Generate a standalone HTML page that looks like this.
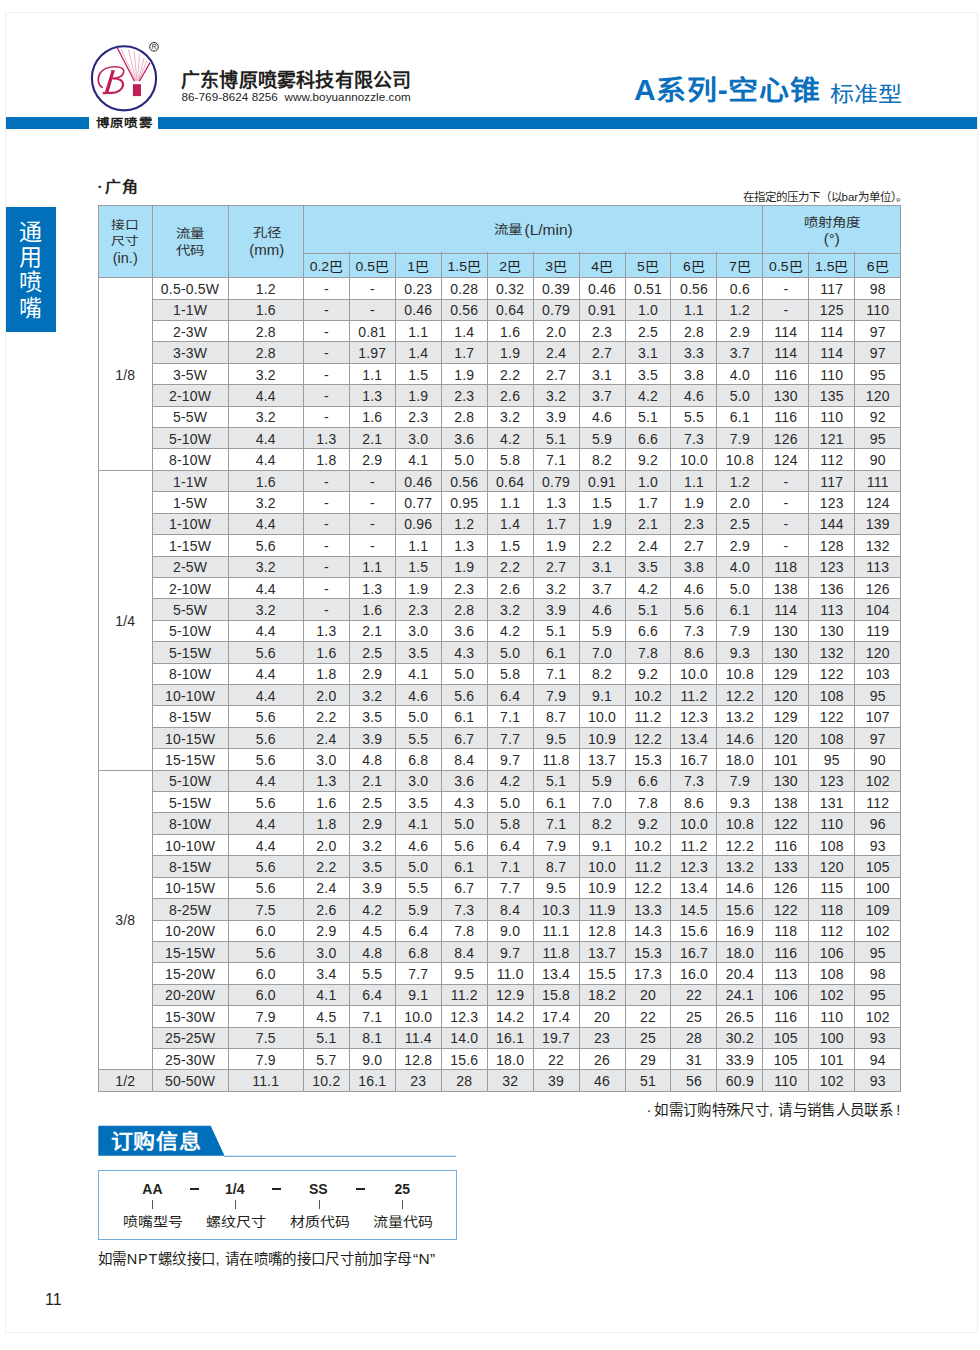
<!DOCTYPE html>
<html lang="zh-CN">
<head>
<meta charset="utf-8">
<title>A系列-空心锥 标准型</title>
<style>
html,body{margin:0;padding:0;background:#fff;}
body{width:980px;height:1350px;position:relative;overflow:hidden;font-family:"Liberation Sans",sans-serif;color:#231f20;}
.a{position:absolute;}
.h{position:absolute;height:1px;background:#9c9c9c;}
.v{position:absolute;width:1px;background:#9c9c9c;}
.t{position:absolute;text-align:center;font-size:14px;letter-spacing:0.2px;white-space:nowrap;color:#2a2a2a;padding-top:1.5px;box-sizing:border-box;}
.sh{position:absolute;text-align:center;font-size:14px;transform:translateY(1.6px) scaleY(0.92);white-space:nowrap;color:#231f20;}
.hd{position:absolute;text-align:center;font-size:14.5px;line-height:17px;white-space:nowrap;color:#2e2e2e;}
.lt{font-size:15px;}
.cj{display:inline-block;transform:scaleY(0.84);}
.lb{transform:scaleY(0.86);transform-origin:0 12px;}
.tc{display:inline-block;transform:scaleY(0.9);transform-origin:0 28px;}
.page{position:absolute;left:5px;top:12px;width:971px;height:1319px;border:1px solid #efefef;}
.bar{position:absolute;top:116.5px;height:12px;background:#0070bb;}
</style>
</head>
<body>
<div class="page"></div>

<!-- header bar -->
<div class="bar" style="left:6px;width:83px"></div>
<div class="bar" style="left:158px;width:819px"></div>
<div class="a" style="left:96px;top:114.8px;font-size:13.5px;font-weight:bold;letter-spacing:1.2px;line-height:16px;white-space:nowrap;transform:scaleY(0.84);transform-origin:0 15px;">博原喷雾</div>

<!-- logo -->
<svg class="a" style="left:0;top:0" width="200" height="130" viewBox="0 0 200 130">
  <circle cx="124" cy="78.3" r="32.1" fill="none" stroke="#27277f" stroke-width="2.1"/>
  <g stroke="#e07a9a" stroke-width="0.6" fill="none">
    <line x1="135.3" y1="80.8" x2="121.4" y2="49.4"/>
    <line x1="136.2" y1="80.8" x2="128.4" y2="49.6"/>
    <line x1="136.9" y1="80.8" x2="134.2" y2="51.2"/>
    <line x1="137.8" y1="80.8" x2="139.4" y2="54.3"/>
    <line x1="138.5" y1="80.8" x2="144.1" y2="57.9"/>
    <line x1="138.9" y1="80.8" x2="146.6" y2="61.1"/>
  </g>
  <line x1="134.5" y1="81.3" x2="117.2" y2="47.8" stroke="#c21f55" stroke-width="1.3"/>
  <line x1="139.4" y1="81.3" x2="149.9" y2="62.9" stroke="#c21f55" stroke-width="1.3"/>
  <rect x="132.9" y="84.2" width="8.1" height="11.9" fill="#c21f55"/>
  <g fill="none" stroke="#c21f55" stroke-linecap="round">
    <path d="M102.2 87.3 C97.2 84.5 97.3 76.5 100.6 72.4 C104 68.2 110 66.6 115.8 66.7 C120.8 66.8 124.3 68.6 123.7 72 C123.1 75.6 118.5 78 113.2 78.5" stroke-width="1.6"/>
    <path d="M113.2 78.5 C119.2 78.3 123.6 80.8 123 85.2 C122.3 90 117.2 92.8 111.2 92.9 L103.6 93.1" stroke-width="2.1"/>
  </g>
  <path d="M110.5 70.3 L115.4 70.3 L114.6 71.2 L108.3 93 L104.6 93 L111.3 71.2 Z" fill="#c21f55"/>
  <circle cx="154" cy="46.8" r="4.3" fill="none" stroke="#222" stroke-width="1"/>
  <text x="154.1" y="49.2" font-family="Liberation Sans" font-size="6.5" text-anchor="middle" fill="#222">R</text>
</svg>

<div class="a" style="left:181px;top:69px;font-size:19px;font-weight:bold;line-height:24px;white-space:nowrap;letter-spacing:0.2px;">广东博原喷雾科技有限公司</div>
<div class="a" style="left:181.5px;top:89.5px;font-size:11.7px;line-height:14px;letter-spacing:0.05px;white-space:nowrap;color:#231f20;">86-769-8624 8256&nbsp;&nbsp;www.boyuannozzle.com</div>

<div class="a" style="left:634px;top:73px;font-size:30px;font-weight:bold;color:#0a70bd;line-height:34px;white-space:nowrap;letter-spacing:0.7px;">A<span class="tc">系列</span>-<span class="tc">空心锥</span></div>
<div class="a" style="left:830px;top:78px;font-size:24px;color:#0a70bd;line-height:30px;white-space:nowrap;"><span class="tc" style="transform:scaleY(0.87);transform-origin:0 24px">标准型</span></div>

<!-- side tab -->
<div class="a" style="left:6px;top:207px;width:50px;height:124.5px;background:#0070bb;"></div>
<div class="a" style="left:5.5px;top:220px;width:50px;color:#fff;font-size:23px;line-height:25.2px;text-align:center;">通<br>用<br>喷<br>嘴</div>

<div class="a" style="left:97.6px;top:175.6px;font-size:16px;font-weight:bold;line-height:22px;white-space:nowrap;letter-spacing:0.8px;transform:scaleY(0.9);transform-origin:0 18px;"><span style="display:inline-block;width:7.6px">·</span>广角</div>
<div class="a" style="left:742.5px;top:189px;font-size:11.5px;line-height:16px;white-space:nowrap;">在指定的压力下（以bar为单位）。</div>

<!-- table -->
<div class="a" style="left:98.4px;top:205.4px;width:802.3px;height:72px;background:#a9dff7"></div>
<div class="a" style="left:152.1px;top:298.81px;width:748.6px;height:21.41px;background:#e6e7e9"></div>
<div class="a" style="left:152.1px;top:341.63px;width:748.6px;height:21.41px;background:#e6e7e9"></div>
<div class="a" style="left:152.1px;top:384.45px;width:748.6px;height:21.41px;background:#e6e7e9"></div>
<div class="a" style="left:152.1px;top:427.27px;width:748.6px;height:21.41px;background:#e6e7e9"></div>
<div class="a" style="left:152.1px;top:470.09px;width:748.6px;height:21.41px;background:#e6e7e9"></div>
<div class="a" style="left:152.1px;top:512.92px;width:748.6px;height:21.41px;background:#e6e7e9"></div>
<div class="a" style="left:152.1px;top:555.74px;width:748.6px;height:21.41px;background:#e6e7e9"></div>
<div class="a" style="left:152.1px;top:598.56px;width:748.6px;height:21.41px;background:#e6e7e9"></div>
<div class="a" style="left:152.1px;top:641.38px;width:748.6px;height:21.41px;background:#e6e7e9"></div>
<div class="a" style="left:152.1px;top:684.2px;width:748.6px;height:21.41px;background:#e6e7e9"></div>
<div class="a" style="left:152.1px;top:727.02px;width:748.6px;height:21.41px;background:#e6e7e9"></div>
<div class="a" style="left:152.1px;top:769.84px;width:748.6px;height:21.41px;background:#e6e7e9"></div>
<div class="a" style="left:152.1px;top:812.66px;width:748.6px;height:21.41px;background:#e6e7e9"></div>
<div class="a" style="left:152.1px;top:855.48px;width:748.6px;height:21.41px;background:#e6e7e9"></div>
<div class="a" style="left:152.1px;top:898.31px;width:748.6px;height:21.41px;background:#e6e7e9"></div>
<div class="a" style="left:152.1px;top:941.13px;width:748.6px;height:21.41px;background:#e6e7e9"></div>
<div class="a" style="left:152.1px;top:983.95px;width:748.6px;height:21.41px;background:#e6e7e9"></div>
<div class="a" style="left:152.1px;top:1026.77px;width:748.6px;height:21.41px;background:#e6e7e9"></div>
<div class="a" style="left:98.4px;top:1069.59px;width:802.3px;height:21.41px;background:#e6e7e9"></div>
<div class="t" style="left:152.1px;top:277.4px;width:75.9px;height:21.41px;line-height:21.41px">0.5-0.5W</div>
<div class="t" style="left:228px;top:277.4px;width:75.4px;height:21.41px;line-height:21.41px">1.2</div>
<div class="t" style="left:303.4px;top:277.4px;width:45.95px;height:21.41px;line-height:21.41px">-</div>
<div class="t" style="left:349.35px;top:277.4px;width:45.95px;height:21.41px;line-height:21.41px">-</div>
<div class="t" style="left:395.29px;top:277.4px;width:45.95px;height:21.41px;line-height:21.41px">0.23</div>
<div class="t" style="left:441.24px;top:277.4px;width:45.95px;height:21.41px;line-height:21.41px">0.28</div>
<div class="t" style="left:487.18px;top:277.4px;width:45.95px;height:21.41px;line-height:21.41px">0.32</div>
<div class="t" style="left:533.13px;top:277.4px;width:45.95px;height:21.41px;line-height:21.41px">0.39</div>
<div class="t" style="left:579.08px;top:277.4px;width:45.95px;height:21.41px;line-height:21.41px">0.46</div>
<div class="t" style="left:625.02px;top:277.4px;width:45.95px;height:21.41px;line-height:21.41px">0.51</div>
<div class="t" style="left:670.97px;top:277.4px;width:45.95px;height:21.41px;line-height:21.41px">0.56</div>
<div class="t" style="left:716.92px;top:277.4px;width:45.95px;height:21.41px;line-height:21.41px">0.6</div>
<div class="t" style="left:762.86px;top:277.4px;width:45.95px;height:21.41px;line-height:21.41px">-</div>
<div class="t" style="left:808.81px;top:277.4px;width:45.95px;height:21.41px;line-height:21.41px">117</div>
<div class="t" style="left:854.75px;top:277.4px;width:45.95px;height:21.41px;line-height:21.41px">98</div>
<div class="t" style="left:152.1px;top:298.81px;width:75.9px;height:21.41px;line-height:21.41px">1-1W</div>
<div class="t" style="left:228px;top:298.81px;width:75.4px;height:21.41px;line-height:21.41px">1.6</div>
<div class="t" style="left:303.4px;top:298.81px;width:45.95px;height:21.41px;line-height:21.41px">-</div>
<div class="t" style="left:349.35px;top:298.81px;width:45.95px;height:21.41px;line-height:21.41px">-</div>
<div class="t" style="left:395.29px;top:298.81px;width:45.95px;height:21.41px;line-height:21.41px">0.46</div>
<div class="t" style="left:441.24px;top:298.81px;width:45.95px;height:21.41px;line-height:21.41px">0.56</div>
<div class="t" style="left:487.18px;top:298.81px;width:45.95px;height:21.41px;line-height:21.41px">0.64</div>
<div class="t" style="left:533.13px;top:298.81px;width:45.95px;height:21.41px;line-height:21.41px">0.79</div>
<div class="t" style="left:579.08px;top:298.81px;width:45.95px;height:21.41px;line-height:21.41px">0.91</div>
<div class="t" style="left:625.02px;top:298.81px;width:45.95px;height:21.41px;line-height:21.41px">1.0</div>
<div class="t" style="left:670.97px;top:298.81px;width:45.95px;height:21.41px;line-height:21.41px">1.1</div>
<div class="t" style="left:716.92px;top:298.81px;width:45.95px;height:21.41px;line-height:21.41px">1.2</div>
<div class="t" style="left:762.86px;top:298.81px;width:45.95px;height:21.41px;line-height:21.41px">-</div>
<div class="t" style="left:808.81px;top:298.81px;width:45.95px;height:21.41px;line-height:21.41px">125</div>
<div class="t" style="left:854.75px;top:298.81px;width:45.95px;height:21.41px;line-height:21.41px">110</div>
<div class="t" style="left:152.1px;top:320.22px;width:75.9px;height:21.41px;line-height:21.41px">2-3W</div>
<div class="t" style="left:228px;top:320.22px;width:75.4px;height:21.41px;line-height:21.41px">2.8</div>
<div class="t" style="left:303.4px;top:320.22px;width:45.95px;height:21.41px;line-height:21.41px">-</div>
<div class="t" style="left:349.35px;top:320.22px;width:45.95px;height:21.41px;line-height:21.41px">0.81</div>
<div class="t" style="left:395.29px;top:320.22px;width:45.95px;height:21.41px;line-height:21.41px">1.1</div>
<div class="t" style="left:441.24px;top:320.22px;width:45.95px;height:21.41px;line-height:21.41px">1.4</div>
<div class="t" style="left:487.18px;top:320.22px;width:45.95px;height:21.41px;line-height:21.41px">1.6</div>
<div class="t" style="left:533.13px;top:320.22px;width:45.95px;height:21.41px;line-height:21.41px">2.0</div>
<div class="t" style="left:579.08px;top:320.22px;width:45.95px;height:21.41px;line-height:21.41px">2.3</div>
<div class="t" style="left:625.02px;top:320.22px;width:45.95px;height:21.41px;line-height:21.41px">2.5</div>
<div class="t" style="left:670.97px;top:320.22px;width:45.95px;height:21.41px;line-height:21.41px">2.8</div>
<div class="t" style="left:716.92px;top:320.22px;width:45.95px;height:21.41px;line-height:21.41px">2.9</div>
<div class="t" style="left:762.86px;top:320.22px;width:45.95px;height:21.41px;line-height:21.41px">114</div>
<div class="t" style="left:808.81px;top:320.22px;width:45.95px;height:21.41px;line-height:21.41px">114</div>
<div class="t" style="left:854.75px;top:320.22px;width:45.95px;height:21.41px;line-height:21.41px">97</div>
<div class="t" style="left:152.1px;top:341.63px;width:75.9px;height:21.41px;line-height:21.41px">3-3W</div>
<div class="t" style="left:228px;top:341.63px;width:75.4px;height:21.41px;line-height:21.41px">2.8</div>
<div class="t" style="left:303.4px;top:341.63px;width:45.95px;height:21.41px;line-height:21.41px">-</div>
<div class="t" style="left:349.35px;top:341.63px;width:45.95px;height:21.41px;line-height:21.41px">1.97</div>
<div class="t" style="left:395.29px;top:341.63px;width:45.95px;height:21.41px;line-height:21.41px">1.4</div>
<div class="t" style="left:441.24px;top:341.63px;width:45.95px;height:21.41px;line-height:21.41px">1.7</div>
<div class="t" style="left:487.18px;top:341.63px;width:45.95px;height:21.41px;line-height:21.41px">1.9</div>
<div class="t" style="left:533.13px;top:341.63px;width:45.95px;height:21.41px;line-height:21.41px">2.4</div>
<div class="t" style="left:579.08px;top:341.63px;width:45.95px;height:21.41px;line-height:21.41px">2.7</div>
<div class="t" style="left:625.02px;top:341.63px;width:45.95px;height:21.41px;line-height:21.41px">3.1</div>
<div class="t" style="left:670.97px;top:341.63px;width:45.95px;height:21.41px;line-height:21.41px">3.3</div>
<div class="t" style="left:716.92px;top:341.63px;width:45.95px;height:21.41px;line-height:21.41px">3.7</div>
<div class="t" style="left:762.86px;top:341.63px;width:45.95px;height:21.41px;line-height:21.41px">114</div>
<div class="t" style="left:808.81px;top:341.63px;width:45.95px;height:21.41px;line-height:21.41px">114</div>
<div class="t" style="left:854.75px;top:341.63px;width:45.95px;height:21.41px;line-height:21.41px">97</div>
<div class="t" style="left:152.1px;top:363.04px;width:75.9px;height:21.41px;line-height:21.41px">3-5W</div>
<div class="t" style="left:228px;top:363.04px;width:75.4px;height:21.41px;line-height:21.41px">3.2</div>
<div class="t" style="left:303.4px;top:363.04px;width:45.95px;height:21.41px;line-height:21.41px">-</div>
<div class="t" style="left:349.35px;top:363.04px;width:45.95px;height:21.41px;line-height:21.41px">1.1</div>
<div class="t" style="left:395.29px;top:363.04px;width:45.95px;height:21.41px;line-height:21.41px">1.5</div>
<div class="t" style="left:441.24px;top:363.04px;width:45.95px;height:21.41px;line-height:21.41px">1.9</div>
<div class="t" style="left:487.18px;top:363.04px;width:45.95px;height:21.41px;line-height:21.41px">2.2</div>
<div class="t" style="left:533.13px;top:363.04px;width:45.95px;height:21.41px;line-height:21.41px">2.7</div>
<div class="t" style="left:579.08px;top:363.04px;width:45.95px;height:21.41px;line-height:21.41px">3.1</div>
<div class="t" style="left:625.02px;top:363.04px;width:45.95px;height:21.41px;line-height:21.41px">3.5</div>
<div class="t" style="left:670.97px;top:363.04px;width:45.95px;height:21.41px;line-height:21.41px">3.8</div>
<div class="t" style="left:716.92px;top:363.04px;width:45.95px;height:21.41px;line-height:21.41px">4.0</div>
<div class="t" style="left:762.86px;top:363.04px;width:45.95px;height:21.41px;line-height:21.41px">116</div>
<div class="t" style="left:808.81px;top:363.04px;width:45.95px;height:21.41px;line-height:21.41px">110</div>
<div class="t" style="left:854.75px;top:363.04px;width:45.95px;height:21.41px;line-height:21.41px">95</div>
<div class="t" style="left:152.1px;top:384.45px;width:75.9px;height:21.41px;line-height:21.41px">2-10W</div>
<div class="t" style="left:228px;top:384.45px;width:75.4px;height:21.41px;line-height:21.41px">4.4</div>
<div class="t" style="left:303.4px;top:384.45px;width:45.95px;height:21.41px;line-height:21.41px">-</div>
<div class="t" style="left:349.35px;top:384.45px;width:45.95px;height:21.41px;line-height:21.41px">1.3</div>
<div class="t" style="left:395.29px;top:384.45px;width:45.95px;height:21.41px;line-height:21.41px">1.9</div>
<div class="t" style="left:441.24px;top:384.45px;width:45.95px;height:21.41px;line-height:21.41px">2.3</div>
<div class="t" style="left:487.18px;top:384.45px;width:45.95px;height:21.41px;line-height:21.41px">2.6</div>
<div class="t" style="left:533.13px;top:384.45px;width:45.95px;height:21.41px;line-height:21.41px">3.2</div>
<div class="t" style="left:579.08px;top:384.45px;width:45.95px;height:21.41px;line-height:21.41px">3.7</div>
<div class="t" style="left:625.02px;top:384.45px;width:45.95px;height:21.41px;line-height:21.41px">4.2</div>
<div class="t" style="left:670.97px;top:384.45px;width:45.95px;height:21.41px;line-height:21.41px">4.6</div>
<div class="t" style="left:716.92px;top:384.45px;width:45.95px;height:21.41px;line-height:21.41px">5.0</div>
<div class="t" style="left:762.86px;top:384.45px;width:45.95px;height:21.41px;line-height:21.41px">130</div>
<div class="t" style="left:808.81px;top:384.45px;width:45.95px;height:21.41px;line-height:21.41px">135</div>
<div class="t" style="left:854.75px;top:384.45px;width:45.95px;height:21.41px;line-height:21.41px">120</div>
<div class="t" style="left:152.1px;top:405.86px;width:75.9px;height:21.41px;line-height:21.41px">5-5W</div>
<div class="t" style="left:228px;top:405.86px;width:75.4px;height:21.41px;line-height:21.41px">3.2</div>
<div class="t" style="left:303.4px;top:405.86px;width:45.95px;height:21.41px;line-height:21.41px">-</div>
<div class="t" style="left:349.35px;top:405.86px;width:45.95px;height:21.41px;line-height:21.41px">1.6</div>
<div class="t" style="left:395.29px;top:405.86px;width:45.95px;height:21.41px;line-height:21.41px">2.3</div>
<div class="t" style="left:441.24px;top:405.86px;width:45.95px;height:21.41px;line-height:21.41px">2.8</div>
<div class="t" style="left:487.18px;top:405.86px;width:45.95px;height:21.41px;line-height:21.41px">3.2</div>
<div class="t" style="left:533.13px;top:405.86px;width:45.95px;height:21.41px;line-height:21.41px">3.9</div>
<div class="t" style="left:579.08px;top:405.86px;width:45.95px;height:21.41px;line-height:21.41px">4.6</div>
<div class="t" style="left:625.02px;top:405.86px;width:45.95px;height:21.41px;line-height:21.41px">5.1</div>
<div class="t" style="left:670.97px;top:405.86px;width:45.95px;height:21.41px;line-height:21.41px">5.5</div>
<div class="t" style="left:716.92px;top:405.86px;width:45.95px;height:21.41px;line-height:21.41px">6.1</div>
<div class="t" style="left:762.86px;top:405.86px;width:45.95px;height:21.41px;line-height:21.41px">116</div>
<div class="t" style="left:808.81px;top:405.86px;width:45.95px;height:21.41px;line-height:21.41px">110</div>
<div class="t" style="left:854.75px;top:405.86px;width:45.95px;height:21.41px;line-height:21.41px">92</div>
<div class="t" style="left:152.1px;top:427.27px;width:75.9px;height:21.41px;line-height:21.41px">5-10W</div>
<div class="t" style="left:228px;top:427.27px;width:75.4px;height:21.41px;line-height:21.41px">4.4</div>
<div class="t" style="left:303.4px;top:427.27px;width:45.95px;height:21.41px;line-height:21.41px">1.3</div>
<div class="t" style="left:349.35px;top:427.27px;width:45.95px;height:21.41px;line-height:21.41px">2.1</div>
<div class="t" style="left:395.29px;top:427.27px;width:45.95px;height:21.41px;line-height:21.41px">3.0</div>
<div class="t" style="left:441.24px;top:427.27px;width:45.95px;height:21.41px;line-height:21.41px">3.6</div>
<div class="t" style="left:487.18px;top:427.27px;width:45.95px;height:21.41px;line-height:21.41px">4.2</div>
<div class="t" style="left:533.13px;top:427.27px;width:45.95px;height:21.41px;line-height:21.41px">5.1</div>
<div class="t" style="left:579.08px;top:427.27px;width:45.95px;height:21.41px;line-height:21.41px">5.9</div>
<div class="t" style="left:625.02px;top:427.27px;width:45.95px;height:21.41px;line-height:21.41px">6.6</div>
<div class="t" style="left:670.97px;top:427.27px;width:45.95px;height:21.41px;line-height:21.41px">7.3</div>
<div class="t" style="left:716.92px;top:427.27px;width:45.95px;height:21.41px;line-height:21.41px">7.9</div>
<div class="t" style="left:762.86px;top:427.27px;width:45.95px;height:21.41px;line-height:21.41px">126</div>
<div class="t" style="left:808.81px;top:427.27px;width:45.95px;height:21.41px;line-height:21.41px">121</div>
<div class="t" style="left:854.75px;top:427.27px;width:45.95px;height:21.41px;line-height:21.41px">95</div>
<div class="t" style="left:152.1px;top:448.68px;width:75.9px;height:21.41px;line-height:21.41px">8-10W</div>
<div class="t" style="left:228px;top:448.68px;width:75.4px;height:21.41px;line-height:21.41px">4.4</div>
<div class="t" style="left:303.4px;top:448.68px;width:45.95px;height:21.41px;line-height:21.41px">1.8</div>
<div class="t" style="left:349.35px;top:448.68px;width:45.95px;height:21.41px;line-height:21.41px">2.9</div>
<div class="t" style="left:395.29px;top:448.68px;width:45.95px;height:21.41px;line-height:21.41px">4.1</div>
<div class="t" style="left:441.24px;top:448.68px;width:45.95px;height:21.41px;line-height:21.41px">5.0</div>
<div class="t" style="left:487.18px;top:448.68px;width:45.95px;height:21.41px;line-height:21.41px">5.8</div>
<div class="t" style="left:533.13px;top:448.68px;width:45.95px;height:21.41px;line-height:21.41px">7.1</div>
<div class="t" style="left:579.08px;top:448.68px;width:45.95px;height:21.41px;line-height:21.41px">8.2</div>
<div class="t" style="left:625.02px;top:448.68px;width:45.95px;height:21.41px;line-height:21.41px">9.2</div>
<div class="t" style="left:670.97px;top:448.68px;width:45.95px;height:21.41px;line-height:21.41px">10.0</div>
<div class="t" style="left:716.92px;top:448.68px;width:45.95px;height:21.41px;line-height:21.41px">10.8</div>
<div class="t" style="left:762.86px;top:448.68px;width:45.95px;height:21.41px;line-height:21.41px">124</div>
<div class="t" style="left:808.81px;top:448.68px;width:45.95px;height:21.41px;line-height:21.41px">112</div>
<div class="t" style="left:854.75px;top:448.68px;width:45.95px;height:21.41px;line-height:21.41px">90</div>
<div class="t" style="left:152.1px;top:470.09px;width:75.9px;height:21.41px;line-height:21.41px">1-1W</div>
<div class="t" style="left:228px;top:470.09px;width:75.4px;height:21.41px;line-height:21.41px">1.6</div>
<div class="t" style="left:303.4px;top:470.09px;width:45.95px;height:21.41px;line-height:21.41px">-</div>
<div class="t" style="left:349.35px;top:470.09px;width:45.95px;height:21.41px;line-height:21.41px">-</div>
<div class="t" style="left:395.29px;top:470.09px;width:45.95px;height:21.41px;line-height:21.41px">0.46</div>
<div class="t" style="left:441.24px;top:470.09px;width:45.95px;height:21.41px;line-height:21.41px">0.56</div>
<div class="t" style="left:487.18px;top:470.09px;width:45.95px;height:21.41px;line-height:21.41px">0.64</div>
<div class="t" style="left:533.13px;top:470.09px;width:45.95px;height:21.41px;line-height:21.41px">0.79</div>
<div class="t" style="left:579.08px;top:470.09px;width:45.95px;height:21.41px;line-height:21.41px">0.91</div>
<div class="t" style="left:625.02px;top:470.09px;width:45.95px;height:21.41px;line-height:21.41px">1.0</div>
<div class="t" style="left:670.97px;top:470.09px;width:45.95px;height:21.41px;line-height:21.41px">1.1</div>
<div class="t" style="left:716.92px;top:470.09px;width:45.95px;height:21.41px;line-height:21.41px">1.2</div>
<div class="t" style="left:762.86px;top:470.09px;width:45.95px;height:21.41px;line-height:21.41px">-</div>
<div class="t" style="left:808.81px;top:470.09px;width:45.95px;height:21.41px;line-height:21.41px">117</div>
<div class="t" style="left:854.75px;top:470.09px;width:45.95px;height:21.41px;line-height:21.41px">111</div>
<div class="t" style="left:152.1px;top:491.51px;width:75.9px;height:21.41px;line-height:21.41px">1-5W</div>
<div class="t" style="left:228px;top:491.51px;width:75.4px;height:21.41px;line-height:21.41px">3.2</div>
<div class="t" style="left:303.4px;top:491.51px;width:45.95px;height:21.41px;line-height:21.41px">-</div>
<div class="t" style="left:349.35px;top:491.51px;width:45.95px;height:21.41px;line-height:21.41px">-</div>
<div class="t" style="left:395.29px;top:491.51px;width:45.95px;height:21.41px;line-height:21.41px">0.77</div>
<div class="t" style="left:441.24px;top:491.51px;width:45.95px;height:21.41px;line-height:21.41px">0.95</div>
<div class="t" style="left:487.18px;top:491.51px;width:45.95px;height:21.41px;line-height:21.41px">1.1</div>
<div class="t" style="left:533.13px;top:491.51px;width:45.95px;height:21.41px;line-height:21.41px">1.3</div>
<div class="t" style="left:579.08px;top:491.51px;width:45.95px;height:21.41px;line-height:21.41px">1.5</div>
<div class="t" style="left:625.02px;top:491.51px;width:45.95px;height:21.41px;line-height:21.41px">1.7</div>
<div class="t" style="left:670.97px;top:491.51px;width:45.95px;height:21.41px;line-height:21.41px">1.9</div>
<div class="t" style="left:716.92px;top:491.51px;width:45.95px;height:21.41px;line-height:21.41px">2.0</div>
<div class="t" style="left:762.86px;top:491.51px;width:45.95px;height:21.41px;line-height:21.41px">-</div>
<div class="t" style="left:808.81px;top:491.51px;width:45.95px;height:21.41px;line-height:21.41px">123</div>
<div class="t" style="left:854.75px;top:491.51px;width:45.95px;height:21.41px;line-height:21.41px">124</div>
<div class="t" style="left:152.1px;top:512.92px;width:75.9px;height:21.41px;line-height:21.41px">1-10W</div>
<div class="t" style="left:228px;top:512.92px;width:75.4px;height:21.41px;line-height:21.41px">4.4</div>
<div class="t" style="left:303.4px;top:512.92px;width:45.95px;height:21.41px;line-height:21.41px">-</div>
<div class="t" style="left:349.35px;top:512.92px;width:45.95px;height:21.41px;line-height:21.41px">-</div>
<div class="t" style="left:395.29px;top:512.92px;width:45.95px;height:21.41px;line-height:21.41px">0.96</div>
<div class="t" style="left:441.24px;top:512.92px;width:45.95px;height:21.41px;line-height:21.41px">1.2</div>
<div class="t" style="left:487.18px;top:512.92px;width:45.95px;height:21.41px;line-height:21.41px">1.4</div>
<div class="t" style="left:533.13px;top:512.92px;width:45.95px;height:21.41px;line-height:21.41px">1.7</div>
<div class="t" style="left:579.08px;top:512.92px;width:45.95px;height:21.41px;line-height:21.41px">1.9</div>
<div class="t" style="left:625.02px;top:512.92px;width:45.95px;height:21.41px;line-height:21.41px">2.1</div>
<div class="t" style="left:670.97px;top:512.92px;width:45.95px;height:21.41px;line-height:21.41px">2.3</div>
<div class="t" style="left:716.92px;top:512.92px;width:45.95px;height:21.41px;line-height:21.41px">2.5</div>
<div class="t" style="left:762.86px;top:512.92px;width:45.95px;height:21.41px;line-height:21.41px">-</div>
<div class="t" style="left:808.81px;top:512.92px;width:45.95px;height:21.41px;line-height:21.41px">144</div>
<div class="t" style="left:854.75px;top:512.92px;width:45.95px;height:21.41px;line-height:21.41px">139</div>
<div class="t" style="left:152.1px;top:534.33px;width:75.9px;height:21.41px;line-height:21.41px">1-15W</div>
<div class="t" style="left:228px;top:534.33px;width:75.4px;height:21.41px;line-height:21.41px">5.6</div>
<div class="t" style="left:303.4px;top:534.33px;width:45.95px;height:21.41px;line-height:21.41px">-</div>
<div class="t" style="left:349.35px;top:534.33px;width:45.95px;height:21.41px;line-height:21.41px">-</div>
<div class="t" style="left:395.29px;top:534.33px;width:45.95px;height:21.41px;line-height:21.41px">1.1</div>
<div class="t" style="left:441.24px;top:534.33px;width:45.95px;height:21.41px;line-height:21.41px">1.3</div>
<div class="t" style="left:487.18px;top:534.33px;width:45.95px;height:21.41px;line-height:21.41px">1.5</div>
<div class="t" style="left:533.13px;top:534.33px;width:45.95px;height:21.41px;line-height:21.41px">1.9</div>
<div class="t" style="left:579.08px;top:534.33px;width:45.95px;height:21.41px;line-height:21.41px">2.2</div>
<div class="t" style="left:625.02px;top:534.33px;width:45.95px;height:21.41px;line-height:21.41px">2.4</div>
<div class="t" style="left:670.97px;top:534.33px;width:45.95px;height:21.41px;line-height:21.41px">2.7</div>
<div class="t" style="left:716.92px;top:534.33px;width:45.95px;height:21.41px;line-height:21.41px">2.9</div>
<div class="t" style="left:762.86px;top:534.33px;width:45.95px;height:21.41px;line-height:21.41px">-</div>
<div class="t" style="left:808.81px;top:534.33px;width:45.95px;height:21.41px;line-height:21.41px">128</div>
<div class="t" style="left:854.75px;top:534.33px;width:45.95px;height:21.41px;line-height:21.41px">132</div>
<div class="t" style="left:152.1px;top:555.74px;width:75.9px;height:21.41px;line-height:21.41px">2-5W</div>
<div class="t" style="left:228px;top:555.74px;width:75.4px;height:21.41px;line-height:21.41px">3.2</div>
<div class="t" style="left:303.4px;top:555.74px;width:45.95px;height:21.41px;line-height:21.41px">-</div>
<div class="t" style="left:349.35px;top:555.74px;width:45.95px;height:21.41px;line-height:21.41px">1.1</div>
<div class="t" style="left:395.29px;top:555.74px;width:45.95px;height:21.41px;line-height:21.41px">1.5</div>
<div class="t" style="left:441.24px;top:555.74px;width:45.95px;height:21.41px;line-height:21.41px">1.9</div>
<div class="t" style="left:487.18px;top:555.74px;width:45.95px;height:21.41px;line-height:21.41px">2.2</div>
<div class="t" style="left:533.13px;top:555.74px;width:45.95px;height:21.41px;line-height:21.41px">2.7</div>
<div class="t" style="left:579.08px;top:555.74px;width:45.95px;height:21.41px;line-height:21.41px">3.1</div>
<div class="t" style="left:625.02px;top:555.74px;width:45.95px;height:21.41px;line-height:21.41px">3.5</div>
<div class="t" style="left:670.97px;top:555.74px;width:45.95px;height:21.41px;line-height:21.41px">3.8</div>
<div class="t" style="left:716.92px;top:555.74px;width:45.95px;height:21.41px;line-height:21.41px">4.0</div>
<div class="t" style="left:762.86px;top:555.74px;width:45.95px;height:21.41px;line-height:21.41px">118</div>
<div class="t" style="left:808.81px;top:555.74px;width:45.95px;height:21.41px;line-height:21.41px">123</div>
<div class="t" style="left:854.75px;top:555.74px;width:45.95px;height:21.41px;line-height:21.41px">113</div>
<div class="t" style="left:152.1px;top:577.15px;width:75.9px;height:21.41px;line-height:21.41px">2-10W</div>
<div class="t" style="left:228px;top:577.15px;width:75.4px;height:21.41px;line-height:21.41px">4.4</div>
<div class="t" style="left:303.4px;top:577.15px;width:45.95px;height:21.41px;line-height:21.41px">-</div>
<div class="t" style="left:349.35px;top:577.15px;width:45.95px;height:21.41px;line-height:21.41px">1.3</div>
<div class="t" style="left:395.29px;top:577.15px;width:45.95px;height:21.41px;line-height:21.41px">1.9</div>
<div class="t" style="left:441.24px;top:577.15px;width:45.95px;height:21.41px;line-height:21.41px">2.3</div>
<div class="t" style="left:487.18px;top:577.15px;width:45.95px;height:21.41px;line-height:21.41px">2.6</div>
<div class="t" style="left:533.13px;top:577.15px;width:45.95px;height:21.41px;line-height:21.41px">3.2</div>
<div class="t" style="left:579.08px;top:577.15px;width:45.95px;height:21.41px;line-height:21.41px">3.7</div>
<div class="t" style="left:625.02px;top:577.15px;width:45.95px;height:21.41px;line-height:21.41px">4.2</div>
<div class="t" style="left:670.97px;top:577.15px;width:45.95px;height:21.41px;line-height:21.41px">4.6</div>
<div class="t" style="left:716.92px;top:577.15px;width:45.95px;height:21.41px;line-height:21.41px">5.0</div>
<div class="t" style="left:762.86px;top:577.15px;width:45.95px;height:21.41px;line-height:21.41px">138</div>
<div class="t" style="left:808.81px;top:577.15px;width:45.95px;height:21.41px;line-height:21.41px">136</div>
<div class="t" style="left:854.75px;top:577.15px;width:45.95px;height:21.41px;line-height:21.41px">126</div>
<div class="t" style="left:152.1px;top:598.56px;width:75.9px;height:21.41px;line-height:21.41px">5-5W</div>
<div class="t" style="left:228px;top:598.56px;width:75.4px;height:21.41px;line-height:21.41px">3.2</div>
<div class="t" style="left:303.4px;top:598.56px;width:45.95px;height:21.41px;line-height:21.41px">-</div>
<div class="t" style="left:349.35px;top:598.56px;width:45.95px;height:21.41px;line-height:21.41px">1.6</div>
<div class="t" style="left:395.29px;top:598.56px;width:45.95px;height:21.41px;line-height:21.41px">2.3</div>
<div class="t" style="left:441.24px;top:598.56px;width:45.95px;height:21.41px;line-height:21.41px">2.8</div>
<div class="t" style="left:487.18px;top:598.56px;width:45.95px;height:21.41px;line-height:21.41px">3.2</div>
<div class="t" style="left:533.13px;top:598.56px;width:45.95px;height:21.41px;line-height:21.41px">3.9</div>
<div class="t" style="left:579.08px;top:598.56px;width:45.95px;height:21.41px;line-height:21.41px">4.6</div>
<div class="t" style="left:625.02px;top:598.56px;width:45.95px;height:21.41px;line-height:21.41px">5.1</div>
<div class="t" style="left:670.97px;top:598.56px;width:45.95px;height:21.41px;line-height:21.41px">5.6</div>
<div class="t" style="left:716.92px;top:598.56px;width:45.95px;height:21.41px;line-height:21.41px">6.1</div>
<div class="t" style="left:762.86px;top:598.56px;width:45.95px;height:21.41px;line-height:21.41px">114</div>
<div class="t" style="left:808.81px;top:598.56px;width:45.95px;height:21.41px;line-height:21.41px">113</div>
<div class="t" style="left:854.75px;top:598.56px;width:45.95px;height:21.41px;line-height:21.41px">104</div>
<div class="t" style="left:152.1px;top:619.97px;width:75.9px;height:21.41px;line-height:21.41px">5-10W</div>
<div class="t" style="left:228px;top:619.97px;width:75.4px;height:21.41px;line-height:21.41px">4.4</div>
<div class="t" style="left:303.4px;top:619.97px;width:45.95px;height:21.41px;line-height:21.41px">1.3</div>
<div class="t" style="left:349.35px;top:619.97px;width:45.95px;height:21.41px;line-height:21.41px">2.1</div>
<div class="t" style="left:395.29px;top:619.97px;width:45.95px;height:21.41px;line-height:21.41px">3.0</div>
<div class="t" style="left:441.24px;top:619.97px;width:45.95px;height:21.41px;line-height:21.41px">3.6</div>
<div class="t" style="left:487.18px;top:619.97px;width:45.95px;height:21.41px;line-height:21.41px">4.2</div>
<div class="t" style="left:533.13px;top:619.97px;width:45.95px;height:21.41px;line-height:21.41px">5.1</div>
<div class="t" style="left:579.08px;top:619.97px;width:45.95px;height:21.41px;line-height:21.41px">5.9</div>
<div class="t" style="left:625.02px;top:619.97px;width:45.95px;height:21.41px;line-height:21.41px">6.6</div>
<div class="t" style="left:670.97px;top:619.97px;width:45.95px;height:21.41px;line-height:21.41px">7.3</div>
<div class="t" style="left:716.92px;top:619.97px;width:45.95px;height:21.41px;line-height:21.41px">7.9</div>
<div class="t" style="left:762.86px;top:619.97px;width:45.95px;height:21.41px;line-height:21.41px">130</div>
<div class="t" style="left:808.81px;top:619.97px;width:45.95px;height:21.41px;line-height:21.41px">130</div>
<div class="t" style="left:854.75px;top:619.97px;width:45.95px;height:21.41px;line-height:21.41px">119</div>
<div class="t" style="left:152.1px;top:641.38px;width:75.9px;height:21.41px;line-height:21.41px">5-15W</div>
<div class="t" style="left:228px;top:641.38px;width:75.4px;height:21.41px;line-height:21.41px">5.6</div>
<div class="t" style="left:303.4px;top:641.38px;width:45.95px;height:21.41px;line-height:21.41px">1.6</div>
<div class="t" style="left:349.35px;top:641.38px;width:45.95px;height:21.41px;line-height:21.41px">2.5</div>
<div class="t" style="left:395.29px;top:641.38px;width:45.95px;height:21.41px;line-height:21.41px">3.5</div>
<div class="t" style="left:441.24px;top:641.38px;width:45.95px;height:21.41px;line-height:21.41px">4.3</div>
<div class="t" style="left:487.18px;top:641.38px;width:45.95px;height:21.41px;line-height:21.41px">5.0</div>
<div class="t" style="left:533.13px;top:641.38px;width:45.95px;height:21.41px;line-height:21.41px">6.1</div>
<div class="t" style="left:579.08px;top:641.38px;width:45.95px;height:21.41px;line-height:21.41px">7.0</div>
<div class="t" style="left:625.02px;top:641.38px;width:45.95px;height:21.41px;line-height:21.41px">7.8</div>
<div class="t" style="left:670.97px;top:641.38px;width:45.95px;height:21.41px;line-height:21.41px">8.6</div>
<div class="t" style="left:716.92px;top:641.38px;width:45.95px;height:21.41px;line-height:21.41px">9.3</div>
<div class="t" style="left:762.86px;top:641.38px;width:45.95px;height:21.41px;line-height:21.41px">130</div>
<div class="t" style="left:808.81px;top:641.38px;width:45.95px;height:21.41px;line-height:21.41px">132</div>
<div class="t" style="left:854.75px;top:641.38px;width:45.95px;height:21.41px;line-height:21.41px">120</div>
<div class="t" style="left:152.1px;top:662.79px;width:75.9px;height:21.41px;line-height:21.41px">8-10W</div>
<div class="t" style="left:228px;top:662.79px;width:75.4px;height:21.41px;line-height:21.41px">4.4</div>
<div class="t" style="left:303.4px;top:662.79px;width:45.95px;height:21.41px;line-height:21.41px">1.8</div>
<div class="t" style="left:349.35px;top:662.79px;width:45.95px;height:21.41px;line-height:21.41px">2.9</div>
<div class="t" style="left:395.29px;top:662.79px;width:45.95px;height:21.41px;line-height:21.41px">4.1</div>
<div class="t" style="left:441.24px;top:662.79px;width:45.95px;height:21.41px;line-height:21.41px">5.0</div>
<div class="t" style="left:487.18px;top:662.79px;width:45.95px;height:21.41px;line-height:21.41px">5.8</div>
<div class="t" style="left:533.13px;top:662.79px;width:45.95px;height:21.41px;line-height:21.41px">7.1</div>
<div class="t" style="left:579.08px;top:662.79px;width:45.95px;height:21.41px;line-height:21.41px">8.2</div>
<div class="t" style="left:625.02px;top:662.79px;width:45.95px;height:21.41px;line-height:21.41px">9.2</div>
<div class="t" style="left:670.97px;top:662.79px;width:45.95px;height:21.41px;line-height:21.41px">10.0</div>
<div class="t" style="left:716.92px;top:662.79px;width:45.95px;height:21.41px;line-height:21.41px">10.8</div>
<div class="t" style="left:762.86px;top:662.79px;width:45.95px;height:21.41px;line-height:21.41px">129</div>
<div class="t" style="left:808.81px;top:662.79px;width:45.95px;height:21.41px;line-height:21.41px">122</div>
<div class="t" style="left:854.75px;top:662.79px;width:45.95px;height:21.41px;line-height:21.41px">103</div>
<div class="t" style="left:152.1px;top:684.2px;width:75.9px;height:21.41px;line-height:21.41px">10-10W</div>
<div class="t" style="left:228px;top:684.2px;width:75.4px;height:21.41px;line-height:21.41px">4.4</div>
<div class="t" style="left:303.4px;top:684.2px;width:45.95px;height:21.41px;line-height:21.41px">2.0</div>
<div class="t" style="left:349.35px;top:684.2px;width:45.95px;height:21.41px;line-height:21.41px">3.2</div>
<div class="t" style="left:395.29px;top:684.2px;width:45.95px;height:21.41px;line-height:21.41px">4.6</div>
<div class="t" style="left:441.24px;top:684.2px;width:45.95px;height:21.41px;line-height:21.41px">5.6</div>
<div class="t" style="left:487.18px;top:684.2px;width:45.95px;height:21.41px;line-height:21.41px">6.4</div>
<div class="t" style="left:533.13px;top:684.2px;width:45.95px;height:21.41px;line-height:21.41px">7.9</div>
<div class="t" style="left:579.08px;top:684.2px;width:45.95px;height:21.41px;line-height:21.41px">9.1</div>
<div class="t" style="left:625.02px;top:684.2px;width:45.95px;height:21.41px;line-height:21.41px">10.2</div>
<div class="t" style="left:670.97px;top:684.2px;width:45.95px;height:21.41px;line-height:21.41px">11.2</div>
<div class="t" style="left:716.92px;top:684.2px;width:45.95px;height:21.41px;line-height:21.41px">12.2</div>
<div class="t" style="left:762.86px;top:684.2px;width:45.95px;height:21.41px;line-height:21.41px">120</div>
<div class="t" style="left:808.81px;top:684.2px;width:45.95px;height:21.41px;line-height:21.41px">108</div>
<div class="t" style="left:854.75px;top:684.2px;width:45.95px;height:21.41px;line-height:21.41px">95</div>
<div class="t" style="left:152.1px;top:705.61px;width:75.9px;height:21.41px;line-height:21.41px">8-15W</div>
<div class="t" style="left:228px;top:705.61px;width:75.4px;height:21.41px;line-height:21.41px">5.6</div>
<div class="t" style="left:303.4px;top:705.61px;width:45.95px;height:21.41px;line-height:21.41px">2.2</div>
<div class="t" style="left:349.35px;top:705.61px;width:45.95px;height:21.41px;line-height:21.41px">3.5</div>
<div class="t" style="left:395.29px;top:705.61px;width:45.95px;height:21.41px;line-height:21.41px">5.0</div>
<div class="t" style="left:441.24px;top:705.61px;width:45.95px;height:21.41px;line-height:21.41px">6.1</div>
<div class="t" style="left:487.18px;top:705.61px;width:45.95px;height:21.41px;line-height:21.41px">7.1</div>
<div class="t" style="left:533.13px;top:705.61px;width:45.95px;height:21.41px;line-height:21.41px">8.7</div>
<div class="t" style="left:579.08px;top:705.61px;width:45.95px;height:21.41px;line-height:21.41px">10.0</div>
<div class="t" style="left:625.02px;top:705.61px;width:45.95px;height:21.41px;line-height:21.41px">11.2</div>
<div class="t" style="left:670.97px;top:705.61px;width:45.95px;height:21.41px;line-height:21.41px">12.3</div>
<div class="t" style="left:716.92px;top:705.61px;width:45.95px;height:21.41px;line-height:21.41px">13.2</div>
<div class="t" style="left:762.86px;top:705.61px;width:45.95px;height:21.41px;line-height:21.41px">129</div>
<div class="t" style="left:808.81px;top:705.61px;width:45.95px;height:21.41px;line-height:21.41px">122</div>
<div class="t" style="left:854.75px;top:705.61px;width:45.95px;height:21.41px;line-height:21.41px">107</div>
<div class="t" style="left:152.1px;top:727.02px;width:75.9px;height:21.41px;line-height:21.41px">10-15W</div>
<div class="t" style="left:228px;top:727.02px;width:75.4px;height:21.41px;line-height:21.41px">5.6</div>
<div class="t" style="left:303.4px;top:727.02px;width:45.95px;height:21.41px;line-height:21.41px">2.4</div>
<div class="t" style="left:349.35px;top:727.02px;width:45.95px;height:21.41px;line-height:21.41px">3.9</div>
<div class="t" style="left:395.29px;top:727.02px;width:45.95px;height:21.41px;line-height:21.41px">5.5</div>
<div class="t" style="left:441.24px;top:727.02px;width:45.95px;height:21.41px;line-height:21.41px">6.7</div>
<div class="t" style="left:487.18px;top:727.02px;width:45.95px;height:21.41px;line-height:21.41px">7.7</div>
<div class="t" style="left:533.13px;top:727.02px;width:45.95px;height:21.41px;line-height:21.41px">9.5</div>
<div class="t" style="left:579.08px;top:727.02px;width:45.95px;height:21.41px;line-height:21.41px">10.9</div>
<div class="t" style="left:625.02px;top:727.02px;width:45.95px;height:21.41px;line-height:21.41px">12.2</div>
<div class="t" style="left:670.97px;top:727.02px;width:45.95px;height:21.41px;line-height:21.41px">13.4</div>
<div class="t" style="left:716.92px;top:727.02px;width:45.95px;height:21.41px;line-height:21.41px">14.6</div>
<div class="t" style="left:762.86px;top:727.02px;width:45.95px;height:21.41px;line-height:21.41px">120</div>
<div class="t" style="left:808.81px;top:727.02px;width:45.95px;height:21.41px;line-height:21.41px">108</div>
<div class="t" style="left:854.75px;top:727.02px;width:45.95px;height:21.41px;line-height:21.41px">97</div>
<div class="t" style="left:152.1px;top:748.43px;width:75.9px;height:21.41px;line-height:21.41px">15-15W</div>
<div class="t" style="left:228px;top:748.43px;width:75.4px;height:21.41px;line-height:21.41px">5.6</div>
<div class="t" style="left:303.4px;top:748.43px;width:45.95px;height:21.41px;line-height:21.41px">3.0</div>
<div class="t" style="left:349.35px;top:748.43px;width:45.95px;height:21.41px;line-height:21.41px">4.8</div>
<div class="t" style="left:395.29px;top:748.43px;width:45.95px;height:21.41px;line-height:21.41px">6.8</div>
<div class="t" style="left:441.24px;top:748.43px;width:45.95px;height:21.41px;line-height:21.41px">8.4</div>
<div class="t" style="left:487.18px;top:748.43px;width:45.95px;height:21.41px;line-height:21.41px">9.7</div>
<div class="t" style="left:533.13px;top:748.43px;width:45.95px;height:21.41px;line-height:21.41px">11.8</div>
<div class="t" style="left:579.08px;top:748.43px;width:45.95px;height:21.41px;line-height:21.41px">13.7</div>
<div class="t" style="left:625.02px;top:748.43px;width:45.95px;height:21.41px;line-height:21.41px">15.3</div>
<div class="t" style="left:670.97px;top:748.43px;width:45.95px;height:21.41px;line-height:21.41px">16.7</div>
<div class="t" style="left:716.92px;top:748.43px;width:45.95px;height:21.41px;line-height:21.41px">18.0</div>
<div class="t" style="left:762.86px;top:748.43px;width:45.95px;height:21.41px;line-height:21.41px">101</div>
<div class="t" style="left:808.81px;top:748.43px;width:45.95px;height:21.41px;line-height:21.41px">95</div>
<div class="t" style="left:854.75px;top:748.43px;width:45.95px;height:21.41px;line-height:21.41px">90</div>
<div class="t" style="left:152.1px;top:769.84px;width:75.9px;height:21.41px;line-height:21.41px">5-10W</div>
<div class="t" style="left:228px;top:769.84px;width:75.4px;height:21.41px;line-height:21.41px">4.4</div>
<div class="t" style="left:303.4px;top:769.84px;width:45.95px;height:21.41px;line-height:21.41px">1.3</div>
<div class="t" style="left:349.35px;top:769.84px;width:45.95px;height:21.41px;line-height:21.41px">2.1</div>
<div class="t" style="left:395.29px;top:769.84px;width:45.95px;height:21.41px;line-height:21.41px">3.0</div>
<div class="t" style="left:441.24px;top:769.84px;width:45.95px;height:21.41px;line-height:21.41px">3.6</div>
<div class="t" style="left:487.18px;top:769.84px;width:45.95px;height:21.41px;line-height:21.41px">4.2</div>
<div class="t" style="left:533.13px;top:769.84px;width:45.95px;height:21.41px;line-height:21.41px">5.1</div>
<div class="t" style="left:579.08px;top:769.84px;width:45.95px;height:21.41px;line-height:21.41px">5.9</div>
<div class="t" style="left:625.02px;top:769.84px;width:45.95px;height:21.41px;line-height:21.41px">6.6</div>
<div class="t" style="left:670.97px;top:769.84px;width:45.95px;height:21.41px;line-height:21.41px">7.3</div>
<div class="t" style="left:716.92px;top:769.84px;width:45.95px;height:21.41px;line-height:21.41px">7.9</div>
<div class="t" style="left:762.86px;top:769.84px;width:45.95px;height:21.41px;line-height:21.41px">130</div>
<div class="t" style="left:808.81px;top:769.84px;width:45.95px;height:21.41px;line-height:21.41px">123</div>
<div class="t" style="left:854.75px;top:769.84px;width:45.95px;height:21.41px;line-height:21.41px">102</div>
<div class="t" style="left:152.1px;top:791.25px;width:75.9px;height:21.41px;line-height:21.41px">5-15W</div>
<div class="t" style="left:228px;top:791.25px;width:75.4px;height:21.41px;line-height:21.41px">5.6</div>
<div class="t" style="left:303.4px;top:791.25px;width:45.95px;height:21.41px;line-height:21.41px">1.6</div>
<div class="t" style="left:349.35px;top:791.25px;width:45.95px;height:21.41px;line-height:21.41px">2.5</div>
<div class="t" style="left:395.29px;top:791.25px;width:45.95px;height:21.41px;line-height:21.41px">3.5</div>
<div class="t" style="left:441.24px;top:791.25px;width:45.95px;height:21.41px;line-height:21.41px">4.3</div>
<div class="t" style="left:487.18px;top:791.25px;width:45.95px;height:21.41px;line-height:21.41px">5.0</div>
<div class="t" style="left:533.13px;top:791.25px;width:45.95px;height:21.41px;line-height:21.41px">6.1</div>
<div class="t" style="left:579.08px;top:791.25px;width:45.95px;height:21.41px;line-height:21.41px">7.0</div>
<div class="t" style="left:625.02px;top:791.25px;width:45.95px;height:21.41px;line-height:21.41px">7.8</div>
<div class="t" style="left:670.97px;top:791.25px;width:45.95px;height:21.41px;line-height:21.41px">8.6</div>
<div class="t" style="left:716.92px;top:791.25px;width:45.95px;height:21.41px;line-height:21.41px">9.3</div>
<div class="t" style="left:762.86px;top:791.25px;width:45.95px;height:21.41px;line-height:21.41px">138</div>
<div class="t" style="left:808.81px;top:791.25px;width:45.95px;height:21.41px;line-height:21.41px">131</div>
<div class="t" style="left:854.75px;top:791.25px;width:45.95px;height:21.41px;line-height:21.41px">112</div>
<div class="t" style="left:152.1px;top:812.66px;width:75.9px;height:21.41px;line-height:21.41px">8-10W</div>
<div class="t" style="left:228px;top:812.66px;width:75.4px;height:21.41px;line-height:21.41px">4.4</div>
<div class="t" style="left:303.4px;top:812.66px;width:45.95px;height:21.41px;line-height:21.41px">1.8</div>
<div class="t" style="left:349.35px;top:812.66px;width:45.95px;height:21.41px;line-height:21.41px">2.9</div>
<div class="t" style="left:395.29px;top:812.66px;width:45.95px;height:21.41px;line-height:21.41px">4.1</div>
<div class="t" style="left:441.24px;top:812.66px;width:45.95px;height:21.41px;line-height:21.41px">5.0</div>
<div class="t" style="left:487.18px;top:812.66px;width:45.95px;height:21.41px;line-height:21.41px">5.8</div>
<div class="t" style="left:533.13px;top:812.66px;width:45.95px;height:21.41px;line-height:21.41px">7.1</div>
<div class="t" style="left:579.08px;top:812.66px;width:45.95px;height:21.41px;line-height:21.41px">8.2</div>
<div class="t" style="left:625.02px;top:812.66px;width:45.95px;height:21.41px;line-height:21.41px">9.2</div>
<div class="t" style="left:670.97px;top:812.66px;width:45.95px;height:21.41px;line-height:21.41px">10.0</div>
<div class="t" style="left:716.92px;top:812.66px;width:45.95px;height:21.41px;line-height:21.41px">10.8</div>
<div class="t" style="left:762.86px;top:812.66px;width:45.95px;height:21.41px;line-height:21.41px">122</div>
<div class="t" style="left:808.81px;top:812.66px;width:45.95px;height:21.41px;line-height:21.41px">110</div>
<div class="t" style="left:854.75px;top:812.66px;width:45.95px;height:21.41px;line-height:21.41px">96</div>
<div class="t" style="left:152.1px;top:834.07px;width:75.9px;height:21.41px;line-height:21.41px">10-10W</div>
<div class="t" style="left:228px;top:834.07px;width:75.4px;height:21.41px;line-height:21.41px">4.4</div>
<div class="t" style="left:303.4px;top:834.07px;width:45.95px;height:21.41px;line-height:21.41px">2.0</div>
<div class="t" style="left:349.35px;top:834.07px;width:45.95px;height:21.41px;line-height:21.41px">3.2</div>
<div class="t" style="left:395.29px;top:834.07px;width:45.95px;height:21.41px;line-height:21.41px">4.6</div>
<div class="t" style="left:441.24px;top:834.07px;width:45.95px;height:21.41px;line-height:21.41px">5.6</div>
<div class="t" style="left:487.18px;top:834.07px;width:45.95px;height:21.41px;line-height:21.41px">6.4</div>
<div class="t" style="left:533.13px;top:834.07px;width:45.95px;height:21.41px;line-height:21.41px">7.9</div>
<div class="t" style="left:579.08px;top:834.07px;width:45.95px;height:21.41px;line-height:21.41px">9.1</div>
<div class="t" style="left:625.02px;top:834.07px;width:45.95px;height:21.41px;line-height:21.41px">10.2</div>
<div class="t" style="left:670.97px;top:834.07px;width:45.95px;height:21.41px;line-height:21.41px">11.2</div>
<div class="t" style="left:716.92px;top:834.07px;width:45.95px;height:21.41px;line-height:21.41px">12.2</div>
<div class="t" style="left:762.86px;top:834.07px;width:45.95px;height:21.41px;line-height:21.41px">116</div>
<div class="t" style="left:808.81px;top:834.07px;width:45.95px;height:21.41px;line-height:21.41px">108</div>
<div class="t" style="left:854.75px;top:834.07px;width:45.95px;height:21.41px;line-height:21.41px">93</div>
<div class="t" style="left:152.1px;top:855.48px;width:75.9px;height:21.41px;line-height:21.41px">8-15W</div>
<div class="t" style="left:228px;top:855.48px;width:75.4px;height:21.41px;line-height:21.41px">5.6</div>
<div class="t" style="left:303.4px;top:855.48px;width:45.95px;height:21.41px;line-height:21.41px">2.2</div>
<div class="t" style="left:349.35px;top:855.48px;width:45.95px;height:21.41px;line-height:21.41px">3.5</div>
<div class="t" style="left:395.29px;top:855.48px;width:45.95px;height:21.41px;line-height:21.41px">5.0</div>
<div class="t" style="left:441.24px;top:855.48px;width:45.95px;height:21.41px;line-height:21.41px">6.1</div>
<div class="t" style="left:487.18px;top:855.48px;width:45.95px;height:21.41px;line-height:21.41px">7.1</div>
<div class="t" style="left:533.13px;top:855.48px;width:45.95px;height:21.41px;line-height:21.41px">8.7</div>
<div class="t" style="left:579.08px;top:855.48px;width:45.95px;height:21.41px;line-height:21.41px">10.0</div>
<div class="t" style="left:625.02px;top:855.48px;width:45.95px;height:21.41px;line-height:21.41px">11.2</div>
<div class="t" style="left:670.97px;top:855.48px;width:45.95px;height:21.41px;line-height:21.41px">12.3</div>
<div class="t" style="left:716.92px;top:855.48px;width:45.95px;height:21.41px;line-height:21.41px">13.2</div>
<div class="t" style="left:762.86px;top:855.48px;width:45.95px;height:21.41px;line-height:21.41px">133</div>
<div class="t" style="left:808.81px;top:855.48px;width:45.95px;height:21.41px;line-height:21.41px">120</div>
<div class="t" style="left:854.75px;top:855.48px;width:45.95px;height:21.41px;line-height:21.41px">105</div>
<div class="t" style="left:152.1px;top:876.89px;width:75.9px;height:21.41px;line-height:21.41px">10-15W</div>
<div class="t" style="left:228px;top:876.89px;width:75.4px;height:21.41px;line-height:21.41px">5.6</div>
<div class="t" style="left:303.4px;top:876.89px;width:45.95px;height:21.41px;line-height:21.41px">2.4</div>
<div class="t" style="left:349.35px;top:876.89px;width:45.95px;height:21.41px;line-height:21.41px">3.9</div>
<div class="t" style="left:395.29px;top:876.89px;width:45.95px;height:21.41px;line-height:21.41px">5.5</div>
<div class="t" style="left:441.24px;top:876.89px;width:45.95px;height:21.41px;line-height:21.41px">6.7</div>
<div class="t" style="left:487.18px;top:876.89px;width:45.95px;height:21.41px;line-height:21.41px">7.7</div>
<div class="t" style="left:533.13px;top:876.89px;width:45.95px;height:21.41px;line-height:21.41px">9.5</div>
<div class="t" style="left:579.08px;top:876.89px;width:45.95px;height:21.41px;line-height:21.41px">10.9</div>
<div class="t" style="left:625.02px;top:876.89px;width:45.95px;height:21.41px;line-height:21.41px">12.2</div>
<div class="t" style="left:670.97px;top:876.89px;width:45.95px;height:21.41px;line-height:21.41px">13.4</div>
<div class="t" style="left:716.92px;top:876.89px;width:45.95px;height:21.41px;line-height:21.41px">14.6</div>
<div class="t" style="left:762.86px;top:876.89px;width:45.95px;height:21.41px;line-height:21.41px">126</div>
<div class="t" style="left:808.81px;top:876.89px;width:45.95px;height:21.41px;line-height:21.41px">115</div>
<div class="t" style="left:854.75px;top:876.89px;width:45.95px;height:21.41px;line-height:21.41px">100</div>
<div class="t" style="left:152.1px;top:898.31px;width:75.9px;height:21.41px;line-height:21.41px">8-25W</div>
<div class="t" style="left:228px;top:898.31px;width:75.4px;height:21.41px;line-height:21.41px">7.5</div>
<div class="t" style="left:303.4px;top:898.31px;width:45.95px;height:21.41px;line-height:21.41px">2.6</div>
<div class="t" style="left:349.35px;top:898.31px;width:45.95px;height:21.41px;line-height:21.41px">4.2</div>
<div class="t" style="left:395.29px;top:898.31px;width:45.95px;height:21.41px;line-height:21.41px">5.9</div>
<div class="t" style="left:441.24px;top:898.31px;width:45.95px;height:21.41px;line-height:21.41px">7.3</div>
<div class="t" style="left:487.18px;top:898.31px;width:45.95px;height:21.41px;line-height:21.41px">8.4</div>
<div class="t" style="left:533.13px;top:898.31px;width:45.95px;height:21.41px;line-height:21.41px">10.3</div>
<div class="t" style="left:579.08px;top:898.31px;width:45.95px;height:21.41px;line-height:21.41px">11.9</div>
<div class="t" style="left:625.02px;top:898.31px;width:45.95px;height:21.41px;line-height:21.41px">13.3</div>
<div class="t" style="left:670.97px;top:898.31px;width:45.95px;height:21.41px;line-height:21.41px">14.5</div>
<div class="t" style="left:716.92px;top:898.31px;width:45.95px;height:21.41px;line-height:21.41px">15.6</div>
<div class="t" style="left:762.86px;top:898.31px;width:45.95px;height:21.41px;line-height:21.41px">122</div>
<div class="t" style="left:808.81px;top:898.31px;width:45.95px;height:21.41px;line-height:21.41px">118</div>
<div class="t" style="left:854.75px;top:898.31px;width:45.95px;height:21.41px;line-height:21.41px">109</div>
<div class="t" style="left:152.1px;top:919.72px;width:75.9px;height:21.41px;line-height:21.41px">10-20W</div>
<div class="t" style="left:228px;top:919.72px;width:75.4px;height:21.41px;line-height:21.41px">6.0</div>
<div class="t" style="left:303.4px;top:919.72px;width:45.95px;height:21.41px;line-height:21.41px">2.9</div>
<div class="t" style="left:349.35px;top:919.72px;width:45.95px;height:21.41px;line-height:21.41px">4.5</div>
<div class="t" style="left:395.29px;top:919.72px;width:45.95px;height:21.41px;line-height:21.41px">6.4</div>
<div class="t" style="left:441.24px;top:919.72px;width:45.95px;height:21.41px;line-height:21.41px">7.8</div>
<div class="t" style="left:487.18px;top:919.72px;width:45.95px;height:21.41px;line-height:21.41px">9.0</div>
<div class="t" style="left:533.13px;top:919.72px;width:45.95px;height:21.41px;line-height:21.41px">11.1</div>
<div class="t" style="left:579.08px;top:919.72px;width:45.95px;height:21.41px;line-height:21.41px">12.8</div>
<div class="t" style="left:625.02px;top:919.72px;width:45.95px;height:21.41px;line-height:21.41px">14.3</div>
<div class="t" style="left:670.97px;top:919.72px;width:45.95px;height:21.41px;line-height:21.41px">15.6</div>
<div class="t" style="left:716.92px;top:919.72px;width:45.95px;height:21.41px;line-height:21.41px">16.9</div>
<div class="t" style="left:762.86px;top:919.72px;width:45.95px;height:21.41px;line-height:21.41px">118</div>
<div class="t" style="left:808.81px;top:919.72px;width:45.95px;height:21.41px;line-height:21.41px">112</div>
<div class="t" style="left:854.75px;top:919.72px;width:45.95px;height:21.41px;line-height:21.41px">102</div>
<div class="t" style="left:152.1px;top:941.13px;width:75.9px;height:21.41px;line-height:21.41px">15-15W</div>
<div class="t" style="left:228px;top:941.13px;width:75.4px;height:21.41px;line-height:21.41px">5.6</div>
<div class="t" style="left:303.4px;top:941.13px;width:45.95px;height:21.41px;line-height:21.41px">3.0</div>
<div class="t" style="left:349.35px;top:941.13px;width:45.95px;height:21.41px;line-height:21.41px">4.8</div>
<div class="t" style="left:395.29px;top:941.13px;width:45.95px;height:21.41px;line-height:21.41px">6.8</div>
<div class="t" style="left:441.24px;top:941.13px;width:45.95px;height:21.41px;line-height:21.41px">8.4</div>
<div class="t" style="left:487.18px;top:941.13px;width:45.95px;height:21.41px;line-height:21.41px">9.7</div>
<div class="t" style="left:533.13px;top:941.13px;width:45.95px;height:21.41px;line-height:21.41px">11.8</div>
<div class="t" style="left:579.08px;top:941.13px;width:45.95px;height:21.41px;line-height:21.41px">13.7</div>
<div class="t" style="left:625.02px;top:941.13px;width:45.95px;height:21.41px;line-height:21.41px">15.3</div>
<div class="t" style="left:670.97px;top:941.13px;width:45.95px;height:21.41px;line-height:21.41px">16.7</div>
<div class="t" style="left:716.92px;top:941.13px;width:45.95px;height:21.41px;line-height:21.41px">18.0</div>
<div class="t" style="left:762.86px;top:941.13px;width:45.95px;height:21.41px;line-height:21.41px">116</div>
<div class="t" style="left:808.81px;top:941.13px;width:45.95px;height:21.41px;line-height:21.41px">106</div>
<div class="t" style="left:854.75px;top:941.13px;width:45.95px;height:21.41px;line-height:21.41px">95</div>
<div class="t" style="left:152.1px;top:962.54px;width:75.9px;height:21.41px;line-height:21.41px">15-20W</div>
<div class="t" style="left:228px;top:962.54px;width:75.4px;height:21.41px;line-height:21.41px">6.0</div>
<div class="t" style="left:303.4px;top:962.54px;width:45.95px;height:21.41px;line-height:21.41px">3.4</div>
<div class="t" style="left:349.35px;top:962.54px;width:45.95px;height:21.41px;line-height:21.41px">5.5</div>
<div class="t" style="left:395.29px;top:962.54px;width:45.95px;height:21.41px;line-height:21.41px">7.7</div>
<div class="t" style="left:441.24px;top:962.54px;width:45.95px;height:21.41px;line-height:21.41px">9.5</div>
<div class="t" style="left:487.18px;top:962.54px;width:45.95px;height:21.41px;line-height:21.41px">11.0</div>
<div class="t" style="left:533.13px;top:962.54px;width:45.95px;height:21.41px;line-height:21.41px">13.4</div>
<div class="t" style="left:579.08px;top:962.54px;width:45.95px;height:21.41px;line-height:21.41px">15.5</div>
<div class="t" style="left:625.02px;top:962.54px;width:45.95px;height:21.41px;line-height:21.41px">17.3</div>
<div class="t" style="left:670.97px;top:962.54px;width:45.95px;height:21.41px;line-height:21.41px">16.0</div>
<div class="t" style="left:716.92px;top:962.54px;width:45.95px;height:21.41px;line-height:21.41px">20.4</div>
<div class="t" style="left:762.86px;top:962.54px;width:45.95px;height:21.41px;line-height:21.41px">113</div>
<div class="t" style="left:808.81px;top:962.54px;width:45.95px;height:21.41px;line-height:21.41px">108</div>
<div class="t" style="left:854.75px;top:962.54px;width:45.95px;height:21.41px;line-height:21.41px">98</div>
<div class="t" style="left:152.1px;top:983.95px;width:75.9px;height:21.41px;line-height:21.41px">20-20W</div>
<div class="t" style="left:228px;top:983.95px;width:75.4px;height:21.41px;line-height:21.41px">6.0</div>
<div class="t" style="left:303.4px;top:983.95px;width:45.95px;height:21.41px;line-height:21.41px">4.1</div>
<div class="t" style="left:349.35px;top:983.95px;width:45.95px;height:21.41px;line-height:21.41px">6.4</div>
<div class="t" style="left:395.29px;top:983.95px;width:45.95px;height:21.41px;line-height:21.41px">9.1</div>
<div class="t" style="left:441.24px;top:983.95px;width:45.95px;height:21.41px;line-height:21.41px">11.2</div>
<div class="t" style="left:487.18px;top:983.95px;width:45.95px;height:21.41px;line-height:21.41px">12.9</div>
<div class="t" style="left:533.13px;top:983.95px;width:45.95px;height:21.41px;line-height:21.41px">15.8</div>
<div class="t" style="left:579.08px;top:983.95px;width:45.95px;height:21.41px;line-height:21.41px">18.2</div>
<div class="t" style="left:625.02px;top:983.95px;width:45.95px;height:21.41px;line-height:21.41px">20</div>
<div class="t" style="left:670.97px;top:983.95px;width:45.95px;height:21.41px;line-height:21.41px">22</div>
<div class="t" style="left:716.92px;top:983.95px;width:45.95px;height:21.41px;line-height:21.41px">24.1</div>
<div class="t" style="left:762.86px;top:983.95px;width:45.95px;height:21.41px;line-height:21.41px">106</div>
<div class="t" style="left:808.81px;top:983.95px;width:45.95px;height:21.41px;line-height:21.41px">102</div>
<div class="t" style="left:854.75px;top:983.95px;width:45.95px;height:21.41px;line-height:21.41px">95</div>
<div class="t" style="left:152.1px;top:1005.36px;width:75.9px;height:21.41px;line-height:21.41px">15-30W</div>
<div class="t" style="left:228px;top:1005.36px;width:75.4px;height:21.41px;line-height:21.41px">7.9</div>
<div class="t" style="left:303.4px;top:1005.36px;width:45.95px;height:21.41px;line-height:21.41px">4.5</div>
<div class="t" style="left:349.35px;top:1005.36px;width:45.95px;height:21.41px;line-height:21.41px">7.1</div>
<div class="t" style="left:395.29px;top:1005.36px;width:45.95px;height:21.41px;line-height:21.41px">10.0</div>
<div class="t" style="left:441.24px;top:1005.36px;width:45.95px;height:21.41px;line-height:21.41px">12.3</div>
<div class="t" style="left:487.18px;top:1005.36px;width:45.95px;height:21.41px;line-height:21.41px">14.2</div>
<div class="t" style="left:533.13px;top:1005.36px;width:45.95px;height:21.41px;line-height:21.41px">17.4</div>
<div class="t" style="left:579.08px;top:1005.36px;width:45.95px;height:21.41px;line-height:21.41px">20</div>
<div class="t" style="left:625.02px;top:1005.36px;width:45.95px;height:21.41px;line-height:21.41px">22</div>
<div class="t" style="left:670.97px;top:1005.36px;width:45.95px;height:21.41px;line-height:21.41px">25</div>
<div class="t" style="left:716.92px;top:1005.36px;width:45.95px;height:21.41px;line-height:21.41px">26.5</div>
<div class="t" style="left:762.86px;top:1005.36px;width:45.95px;height:21.41px;line-height:21.41px">116</div>
<div class="t" style="left:808.81px;top:1005.36px;width:45.95px;height:21.41px;line-height:21.41px">110</div>
<div class="t" style="left:854.75px;top:1005.36px;width:45.95px;height:21.41px;line-height:21.41px">102</div>
<div class="t" style="left:152.1px;top:1026.77px;width:75.9px;height:21.41px;line-height:21.41px">25-25W</div>
<div class="t" style="left:228px;top:1026.77px;width:75.4px;height:21.41px;line-height:21.41px">7.5</div>
<div class="t" style="left:303.4px;top:1026.77px;width:45.95px;height:21.41px;line-height:21.41px">5.1</div>
<div class="t" style="left:349.35px;top:1026.77px;width:45.95px;height:21.41px;line-height:21.41px">8.1</div>
<div class="t" style="left:395.29px;top:1026.77px;width:45.95px;height:21.41px;line-height:21.41px">11.4</div>
<div class="t" style="left:441.24px;top:1026.77px;width:45.95px;height:21.41px;line-height:21.41px">14.0</div>
<div class="t" style="left:487.18px;top:1026.77px;width:45.95px;height:21.41px;line-height:21.41px">16.1</div>
<div class="t" style="left:533.13px;top:1026.77px;width:45.95px;height:21.41px;line-height:21.41px">19.7</div>
<div class="t" style="left:579.08px;top:1026.77px;width:45.95px;height:21.41px;line-height:21.41px">23</div>
<div class="t" style="left:625.02px;top:1026.77px;width:45.95px;height:21.41px;line-height:21.41px">25</div>
<div class="t" style="left:670.97px;top:1026.77px;width:45.95px;height:21.41px;line-height:21.41px">28</div>
<div class="t" style="left:716.92px;top:1026.77px;width:45.95px;height:21.41px;line-height:21.41px">30.2</div>
<div class="t" style="left:762.86px;top:1026.77px;width:45.95px;height:21.41px;line-height:21.41px">105</div>
<div class="t" style="left:808.81px;top:1026.77px;width:45.95px;height:21.41px;line-height:21.41px">100</div>
<div class="t" style="left:854.75px;top:1026.77px;width:45.95px;height:21.41px;line-height:21.41px">93</div>
<div class="t" style="left:152.1px;top:1048.18px;width:75.9px;height:21.41px;line-height:21.41px">25-30W</div>
<div class="t" style="left:228px;top:1048.18px;width:75.4px;height:21.41px;line-height:21.41px">7.9</div>
<div class="t" style="left:303.4px;top:1048.18px;width:45.95px;height:21.41px;line-height:21.41px">5.7</div>
<div class="t" style="left:349.35px;top:1048.18px;width:45.95px;height:21.41px;line-height:21.41px">9.0</div>
<div class="t" style="left:395.29px;top:1048.18px;width:45.95px;height:21.41px;line-height:21.41px">12.8</div>
<div class="t" style="left:441.24px;top:1048.18px;width:45.95px;height:21.41px;line-height:21.41px">15.6</div>
<div class="t" style="left:487.18px;top:1048.18px;width:45.95px;height:21.41px;line-height:21.41px">18.0</div>
<div class="t" style="left:533.13px;top:1048.18px;width:45.95px;height:21.41px;line-height:21.41px">22</div>
<div class="t" style="left:579.08px;top:1048.18px;width:45.95px;height:21.41px;line-height:21.41px">26</div>
<div class="t" style="left:625.02px;top:1048.18px;width:45.95px;height:21.41px;line-height:21.41px">29</div>
<div class="t" style="left:670.97px;top:1048.18px;width:45.95px;height:21.41px;line-height:21.41px">31</div>
<div class="t" style="left:716.92px;top:1048.18px;width:45.95px;height:21.41px;line-height:21.41px">33.9</div>
<div class="t" style="left:762.86px;top:1048.18px;width:45.95px;height:21.41px;line-height:21.41px">105</div>
<div class="t" style="left:808.81px;top:1048.18px;width:45.95px;height:21.41px;line-height:21.41px">101</div>
<div class="t" style="left:854.75px;top:1048.18px;width:45.95px;height:21.41px;line-height:21.41px">94</div>
<div class="t" style="left:152.1px;top:1069.59px;width:75.9px;height:21.41px;line-height:21.41px">50-50W</div>
<div class="t" style="left:228px;top:1069.59px;width:75.4px;height:21.41px;line-height:21.41px">11.1</div>
<div class="t" style="left:303.4px;top:1069.59px;width:45.95px;height:21.41px;line-height:21.41px">10.2</div>
<div class="t" style="left:349.35px;top:1069.59px;width:45.95px;height:21.41px;line-height:21.41px">16.1</div>
<div class="t" style="left:395.29px;top:1069.59px;width:45.95px;height:21.41px;line-height:21.41px">23</div>
<div class="t" style="left:441.24px;top:1069.59px;width:45.95px;height:21.41px;line-height:21.41px">28</div>
<div class="t" style="left:487.18px;top:1069.59px;width:45.95px;height:21.41px;line-height:21.41px">32</div>
<div class="t" style="left:533.13px;top:1069.59px;width:45.95px;height:21.41px;line-height:21.41px">39</div>
<div class="t" style="left:579.08px;top:1069.59px;width:45.95px;height:21.41px;line-height:21.41px">46</div>
<div class="t" style="left:625.02px;top:1069.59px;width:45.95px;height:21.41px;line-height:21.41px">51</div>
<div class="t" style="left:670.97px;top:1069.59px;width:45.95px;height:21.41px;line-height:21.41px">56</div>
<div class="t" style="left:716.92px;top:1069.59px;width:45.95px;height:21.41px;line-height:21.41px">60.9</div>
<div class="t" style="left:762.86px;top:1069.59px;width:45.95px;height:21.41px;line-height:21.41px">110</div>
<div class="t" style="left:808.81px;top:1069.59px;width:45.95px;height:21.41px;line-height:21.41px">102</div>
<div class="t" style="left:854.75px;top:1069.59px;width:45.95px;height:21.41px;line-height:21.41px">93</div>
<div class="t" style="left:98.4px;top:277.4px;width:53.7px;height:192.69px;line-height:192.69px">1/8</div>
<div class="t" style="left:98.4px;top:470.09px;width:53.7px;height:299.75px;line-height:299.75px">1/4</div>
<div class="t" style="left:98.4px;top:769.84px;width:53.7px;height:299.75px;line-height:299.75px">3/8</div>
<div class="t" style="left:98.4px;top:1069.59px;width:53.7px;height:21.41px;line-height:21.41px">1/2</div>
<div class="sh" style="left:303.4px;top:252.9px;width:45.95px;height:24.5px;line-height:24.5px">0.2巴</div>
<div class="sh" style="left:349.35px;top:252.9px;width:45.95px;height:24.5px;line-height:24.5px">0.5巴</div>
<div class="sh" style="left:395.29px;top:252.9px;width:45.95px;height:24.5px;line-height:24.5px">1巴</div>
<div class="sh" style="left:441.24px;top:252.9px;width:45.95px;height:24.5px;line-height:24.5px">1.5巴</div>
<div class="sh" style="left:487.18px;top:252.9px;width:45.95px;height:24.5px;line-height:24.5px">2巴</div>
<div class="sh" style="left:533.13px;top:252.9px;width:45.95px;height:24.5px;line-height:24.5px">3巴</div>
<div class="sh" style="left:579.08px;top:252.9px;width:45.95px;height:24.5px;line-height:24.5px">4巴</div>
<div class="sh" style="left:625.02px;top:252.9px;width:45.95px;height:24.5px;line-height:24.5px">5巴</div>
<div class="sh" style="left:670.97px;top:252.9px;width:45.95px;height:24.5px;line-height:24.5px">6巴</div>
<div class="sh" style="left:716.92px;top:252.9px;width:45.95px;height:24.5px;line-height:24.5px">7巴</div>
<div class="sh" style="left:762.86px;top:252.9px;width:45.95px;height:24.5px;line-height:24.5px">0.5巴</div>
<div class="sh" style="left:808.81px;top:252.9px;width:45.95px;height:24.5px;line-height:24.5px">1.5巴</div>
<div class="sh" style="left:854.75px;top:252.9px;width:45.95px;height:24.5px;line-height:24.5px">6巴</div>
<div class="h" style="left:97.9px;top:205.2px;width:803.3px"></div>
<div class="h" style="left:302.9px;top:252.7px;width:598.3px"></div>
<div class="h" style="left:97.9px;top:277.2px;width:803.3px"></div>
<div class="h" style="left:151.6px;top:298.61px;width:749.6px"></div>
<div class="h" style="left:151.6px;top:320.02px;width:749.6px"></div>
<div class="h" style="left:151.6px;top:341.43px;width:749.6px"></div>
<div class="h" style="left:151.6px;top:362.84px;width:749.6px"></div>
<div class="h" style="left:151.6px;top:384.25px;width:749.6px"></div>
<div class="h" style="left:151.6px;top:405.66px;width:749.6px"></div>
<div class="h" style="left:151.6px;top:427.07px;width:749.6px"></div>
<div class="h" style="left:151.6px;top:448.48px;width:749.6px"></div>
<div class="h" style="left:97.9px;top:469.89px;width:803.3px"></div>
<div class="h" style="left:151.6px;top:491.31px;width:749.6px"></div>
<div class="h" style="left:151.6px;top:512.72px;width:749.6px"></div>
<div class="h" style="left:151.6px;top:534.13px;width:749.6px"></div>
<div class="h" style="left:151.6px;top:555.54px;width:749.6px"></div>
<div class="h" style="left:151.6px;top:576.95px;width:749.6px"></div>
<div class="h" style="left:151.6px;top:598.36px;width:749.6px"></div>
<div class="h" style="left:151.6px;top:619.77px;width:749.6px"></div>
<div class="h" style="left:151.6px;top:641.18px;width:749.6px"></div>
<div class="h" style="left:151.6px;top:662.59px;width:749.6px"></div>
<div class="h" style="left:151.6px;top:684px;width:749.6px"></div>
<div class="h" style="left:151.6px;top:705.41px;width:749.6px"></div>
<div class="h" style="left:151.6px;top:726.82px;width:749.6px"></div>
<div class="h" style="left:151.6px;top:748.23px;width:749.6px"></div>
<div class="h" style="left:97.9px;top:769.64px;width:803.3px"></div>
<div class="h" style="left:151.6px;top:791.05px;width:749.6px"></div>
<div class="h" style="left:151.6px;top:812.46px;width:749.6px"></div>
<div class="h" style="left:151.6px;top:833.87px;width:749.6px"></div>
<div class="h" style="left:151.6px;top:855.28px;width:749.6px"></div>
<div class="h" style="left:151.6px;top:876.69px;width:749.6px"></div>
<div class="h" style="left:151.6px;top:898.11px;width:749.6px"></div>
<div class="h" style="left:151.6px;top:919.52px;width:749.6px"></div>
<div class="h" style="left:151.6px;top:940.93px;width:749.6px"></div>
<div class="h" style="left:151.6px;top:962.34px;width:749.6px"></div>
<div class="h" style="left:151.6px;top:983.75px;width:749.6px"></div>
<div class="h" style="left:151.6px;top:1005.16px;width:749.6px"></div>
<div class="h" style="left:151.6px;top:1026.57px;width:749.6px"></div>
<div class="h" style="left:151.6px;top:1047.98px;width:749.6px"></div>
<div class="h" style="left:97.9px;top:1069.39px;width:803.3px"></div>
<div class="h" style="left:97.9px;top:1090.8px;width:803.3px"></div>
<div class="v" style="left:97.9px;top:204.9px;height:886.6px"></div>
<div class="v" style="left:151.6px;top:204.9px;height:886.6px"></div>
<div class="v" style="left:227.5px;top:204.9px;height:886.6px"></div>
<div class="v" style="left:302.9px;top:204.9px;height:886.6px"></div>
<div class="v" style="left:348.85px;top:252.4px;height:839.1px"></div>
<div class="v" style="left:394.79px;top:252.4px;height:839.1px"></div>
<div class="v" style="left:440.74px;top:252.4px;height:839.1px"></div>
<div class="v" style="left:486.68px;top:252.4px;height:839.1px"></div>
<div class="v" style="left:532.63px;top:252.4px;height:839.1px"></div>
<div class="v" style="left:578.58px;top:252.4px;height:839.1px"></div>
<div class="v" style="left:624.52px;top:252.4px;height:839.1px"></div>
<div class="v" style="left:670.47px;top:252.4px;height:839.1px"></div>
<div class="v" style="left:716.42px;top:252.4px;height:839.1px"></div>
<div class="v" style="left:762.36px;top:204.9px;height:886.6px"></div>
<div class="v" style="left:808.31px;top:252.4px;height:839.1px"></div>
<div class="v" style="left:854.25px;top:252.4px;height:839.1px"></div>
<div class="v" style="left:900.2px;top:204.9px;height:886.6px"></div>

<!-- table headers -->
<div class="hd" style="left:98.4px;top:217.5px;width:53.7px;font-size:13.8px;line-height:16.1px;"><span class="cj">接口</span><br><span class="cj">尺寸</span><br><span style="font-size:14.5px">(in.)</span></div>
<div class="hd" style="left:152.1px;top:225.8px;width:75.9px;"><span class="cj">流量</span><br><span class="cj">代码</span></div>
<div class="hd" style="left:229px;top:225px;width:75.4px;"><span class="cj">孔径</span><br><span class="lt" style="position:relative;top:-1.5px">(mm)</span></div>
<div class="hd" style="left:303.4px;top:221px;width:459.5px;"><span class="cj">流量</span><span class="lt" style="margin-left:3px;font-size:15.5px">(L/min)</span></div>
<div class="hd" style="left:763px;top:215.3px;width:137.7px;"><span class="cj">喷射角度</span><br><span class="lt" style="position:relative;top:-2.5px">(°)</span></div>

<div class="a" style="left:646.5px;top:1101px;font-size:14.5px;line-height:18px;white-space:nowrap;letter-spacing:0.35px;">·<span style="margin-left:2.5px">如需订购特殊尺寸</span><span style="margin-right:5px">,</span>请与销售人员联系<span style="margin-left:3px">!</span></div>

<!-- order info -->
<svg class="a" style="left:0;top:1120px" width="470" height="40" viewBox="0 1120 470 40">
  <polygon points="98.3,1125.7 210.7,1125.7 224.5,1155.8 98.3,1155.8" fill="#0070bb"/>
  <rect x="224" y="1155.8" width="232" height="1" fill="#4f9fd4"/>
</svg>
<div class="a" style="left:110.7px;top:1126.5px;font-size:22px;font-weight:bold;color:#fff;line-height:30px;white-space:nowrap;letter-spacing:0.8px;transform:scaleY(0.93);transform-origin:0 25px;">订购信息</div>

<div class="a" style="left:98px;top:1170px;width:357px;height:67.5px;border:1px solid #74addb;"></div>
<div class="a" style="left:0;top:1180px;width:980px;height:18px;font-size:14px;font-weight:bold;line-height:18px;">
  <span class="a" style="left:142.3px;">AA</span>
  <span class="a" style="left:190px;top:7.6px;width:9px;height:2px;background:#222;"></span>
  <span class="a" style="left:225px;">1/4</span>
  <span class="a" style="left:272px;top:7.6px;width:9px;height:2px;background:#222;"></span>
  <span class="a" style="left:309px;">SS</span>
  <span class="a" style="left:356px;top:7.6px;width:9px;height:2px;background:#222;"></span>
  <span class="a" style="left:394.5px;">25</span>
</div>
<div class="a" style="left:152.2px;top:1200.2px;width:1px;height:8.5px;background:#555;"></div>
<div class="a" style="left:235.4px;top:1200.2px;width:1px;height:8.5px;background:#555;"></div>
<div class="a" style="left:318.8px;top:1200.2px;width:1px;height:8.5px;background:#555;"></div>
<div class="a" style="left:402.2px;top:1200.2px;width:1px;height:8.5px;background:#555;"></div>
<div class="a" style="left:0;top:1212px;width:980px;font-size:15px;line-height:18px;white-space:nowrap;">
  <span class="a lb" style="left:122.6px;">喷嘴型号</span>
  <span class="a lb" style="left:206.3px;">螺纹尺寸</span>
  <span class="a lb" style="left:290.1px;">材质代码</span>
  <span class="a lb" style="left:373.2px;">流量代码</span>
</div>

<div class="a" style="left:98px;top:1250px;font-size:14.5px;line-height:18px;white-space:nowrap;letter-spacing:0.35px;">如需<span style="letter-spacing:0.8px">NPT</span>螺纹接口<span style="margin-right:5px">,</span>请在喷嘴的接口尺寸前加字母<span style="margin-left:1.5px;font-size:15.5px">“N”</span></div>

<div class="a" style="left:45px;top:1290.7px;font-size:16px;line-height:18px;">11</div>
</body>
</html>
